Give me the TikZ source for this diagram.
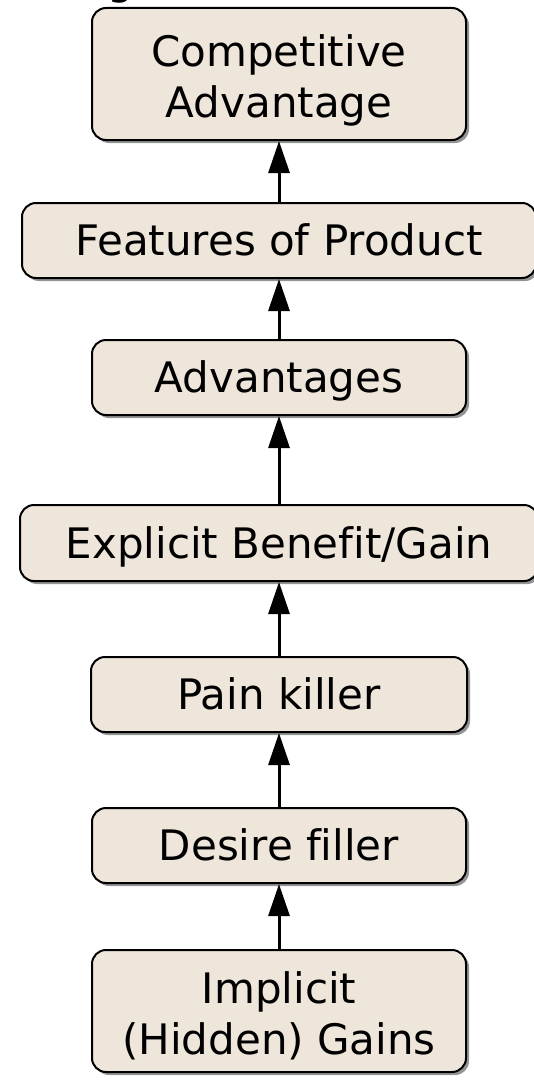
\documentclass[tikz,border=0pt]{standalone}
\usepackage{fontspec}
\setmainfont{DejaVu Sans}[Ligatures=CommonOff]
\usetikzlibrary{arrows.meta,shadows}
\definecolor{boxfill}{RGB}{239,230,219}
\begin{document}
\begin{tikzpicture}[x=1pt,y=-1pt,
  stage/.style={draw=black, line width=2pt, fill=boxfill, rounded corners=14pt,
    align=center, inner sep=0pt, font=\fontsize{42}{51}\selectfont,
    text height=30pt, text depth=0pt,
    drop shadow={shadow xshift=3pt, shadow yshift=-3pt, fill=black!42, opacity=1}},
  twoline/.style={text height=86pt, text depth=0pt},
  link/.style={line width=3pt, -{Triangle[width=21pt,length=32pt]}}]
\useasboundingbox (0,0) rectangle (534,1081);

% heading text running off the top edge
\node[anchor=base west, inner sep=0pt, font=\fontsize{42}{51}\selectfont] (head) at (107,-5.5) {g};

\node[stage, twoline, minimum width=374pt, minimum height=132pt] (comp) at (279,74) {Competitive\\Advantage};
\node[stage, minimum width=514pt, minimum height=75pt] (feat) at (279,240.5) {Features of Product};
\node[stage, minimum width=374pt, minimum height=75pt] (adv) at (279,377.5) {Advantages};
\node[stage, minimum width=518pt, minimum height=76pt] (expl) at (279,543) {Explicit Benefit/Gain};
\node[stage, minimum width=376pt, minimum height=75pt] (pain) at (279,694.5) {Pain killer};
\node[stage, minimum width=374pt, minimum height=75pt] (desire) at (279,845.5) {Desire filler};
\node[stage, twoline, minimum width=374pt, minimum height=122pt] (impl) at (279,1011) {Implicit\\(Hidden) Gains};

\draw[link] (feat.north) -- (comp.south);
\draw[link] (adv.north) -- (feat.south);
\draw[link] (expl.north) -- (adv.south);
\draw[link] (pain.north) -- (expl.south);
\draw[link] (desire.north) -- (pain.south);
\draw[link] (impl.north) -- (desire.south);
\end{tikzpicture}
\end{document}
